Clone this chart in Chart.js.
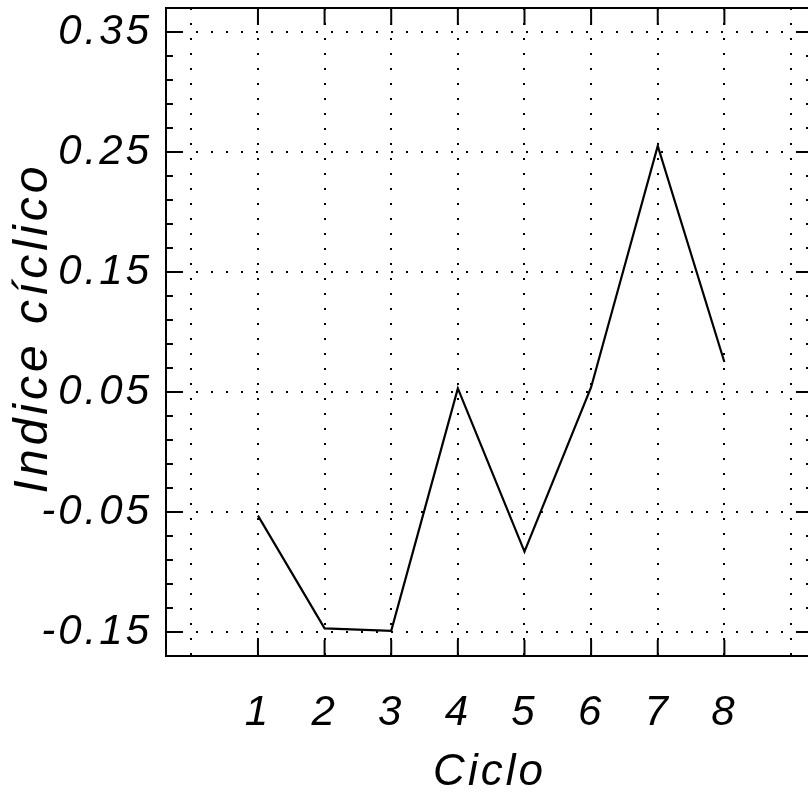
<!DOCTYPE html>
<html>
<head>
<meta charset="utf-8">
<script src="https://cdn.jsdelivr.net/npm/chart.js@4"></script>
<style>
  html, body { margin: 0; padding: 0; background: #fff; overflow: hidden; }
  canvas { display: block; }
</style>
</head>
<body>
<canvas id="ciclo" width="816" height="801"></canvas>
<script>
// DATA
const ciclos = [1, 2, 3, 4, 5, 6, 7, 8];
const indice = [-0.053, -0.147, -0.149, 0.053, -0.083, 0.054, 0.255, 0.075];
const yTicks = [-0.15, -0.05, 0.05, 0.15, 0.25, 0.35];
const xTicks = [0, 1, 2, 3, 4, 5, 6, 7, 8, 9];
const yMinorStep = 0.02;
const xTitle = "Ciclo";
const yTitle = "Indice cíclico";

const FONT = "'Liberation Sans', Arial, Helvetica, sans-serif";

// letter spacing for all text
const spacing = {
  id: "spacing",
  beforeLayout(chart) { chart.ctx.letterSpacing = "3px"; },
  beforeDraw(chart) { chart.ctx.letterSpacing = "3px"; }
};

// FRAME + INWARD TICKS + Y TITLE
const frame = {
  id: "frame",
  afterDraw(chart) {
    const { ctx, chartArea: a, scales } = chart;
    const x = scales.x, y = scales.y;
    ctx.save();
    ctx.strokeStyle = "#000";
    ctx.lineWidth = 2;
    ctx.setLineDash([]);
    ctx.strokeRect(a.left, a.top, a.right - a.left, a.bottom - a.top);

    ctx.beginPath();
    yTicks.forEach(v => {
      const p = y.getPixelForValue(v);
      ctx.moveTo(a.left, p); ctx.lineTo(a.left + 16, p);
      ctx.moveTo(a.right, p); ctx.lineTo(a.right - 16, p);
    });
    for (let v = yTicks[0] - yMinorStep; v <= y.max + 1e-9; v += yMinorStep) {
      const inMajor = yTicks.some(t => Math.abs(t - v) < 1e-6);
      if (inMajor || v < y.min - 1e-9) continue;
      const p = y.getPixelForValue(v);
      ctx.moveTo(a.left, p); ctx.lineTo(a.left + 7, p);
      ctx.moveTo(a.right, p); ctx.lineTo(a.right - 7, p);
    }
    ciclos.forEach(c => {
      const p = x.getPixelForValue(c);
      ctx.moveTo(p, a.top); ctx.lineTo(p, a.top + 17);
      ctx.moveTo(p, a.bottom); ctx.lineTo(p, a.bottom - 16);
    });
    ctx.stroke();

    // y title
    ctx.translate(34, (a.top + a.bottom) / 2 - 4);
    ctx.rotate(-Math.PI / 2);
    ctx.fillStyle = "#000";
    ctx.font = "italic 48px " + FONT;
    ctx.letterSpacing = "4px";
    ctx.textAlign = "center";
    ctx.textBaseline = "middle";
    ctx.fillText(yTitle, 0, 0);
    ctx.restore();
  }
};

const noPad = s => {
  s.paddingTop = 0; s.paddingBottom = 0;
  s.paddingLeft = 0; s.paddingRight = 0;
};

const ctx = document.getElementById("ciclo").getContext("2d");

new Chart(ctx, {
  type: "line",
  data: {
    datasets: [{
      data: ciclos.map((c, i) => ({ x: c, y: indice[i] })),
      borderColor: "#000",
      borderWidth: 2.2,
      pointRadius: 0,
      tension: 0,
      fill: false
    }]
  },
  options: {
    responsive: false,
    animation: false,
    events: [],
    layout: { padding: { top: 8, right: 3, left: 0, bottom: 0 } },
    plugins: {
      legend: { display: false },
      tooltip: { enabled: false }
    },
    scales: {
      x: {
        type: "linear",
        min: -0.38,
        max: 9.33,
        afterBuildTicks: s => { s.ticks = xTicks.map(v => ({ value: v })); },
        afterFit: s => { s.height = 145; noPad(s); },
        grid: { color: "#000", lineWidth: 2, drawTicks: false },
        border: { display: false, dash: [2, 13] },
        ticks: {
          color: "#000",
          padding: 32,
          maxRotation: 0,
          autoSkip: false,
          font: { family: FONT, size: 42, style: "italic" },
          callback: v => (v >= 1 && v <= 8 ? String(v) : "")
        },
        title: {
          display: true,
          text: xTitle,
          color: "#000",
          padding: { top: 0, bottom: 2 },
          font: { family: FONT, size: 44, style: "italic", lineHeight: 1.2 }
        }
      },
      y: {
        min: -0.17,
        max: 0.37,
        afterBuildTicks: s => { s.ticks = yTicks.map(v => ({ value: v })); },
        afterFit: s => { s.width = 166; noPad(s); },
        grid: { color: "#000", lineWidth: 2, drawTicks: false },
        border: { display: false, dash: [2, 13] },
        ticks: {
          color: "#000",
          padding: 14,
          font: { family: FONT, size: 42, style: "italic" },
          callback: v => v.toFixed(2)
        }
      }
    }
  },
  plugins: [spacing, frame]
});
</script>
</body>
</html>
